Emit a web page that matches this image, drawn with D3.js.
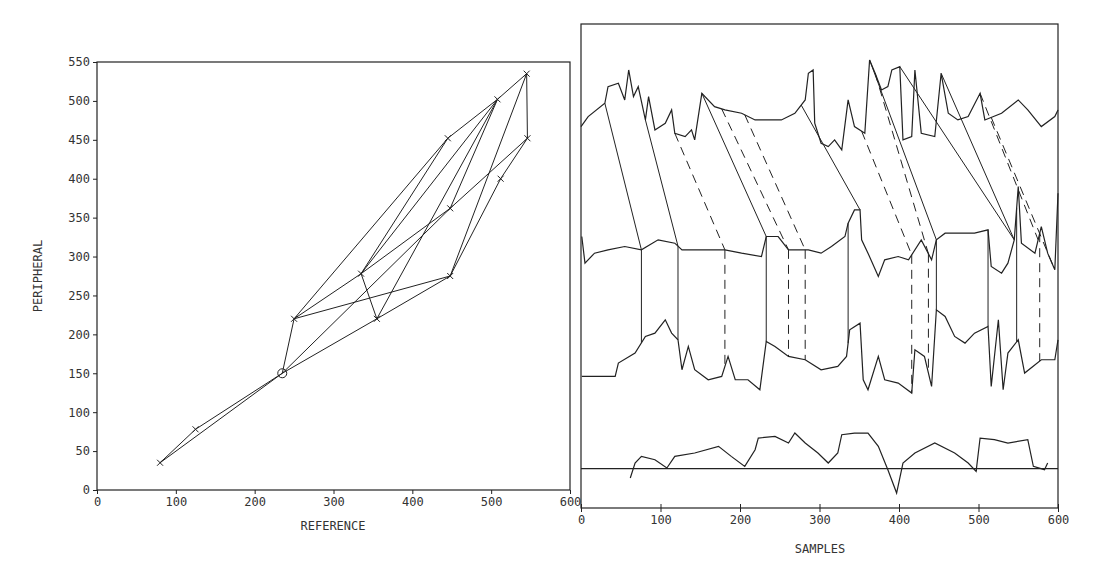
<!DOCTYPE html>
<html><head><meta charset="utf-8">
<script src="https://cdn.jsdelivr.net/npm/d3@7"></script>
<style>body{margin:0;background:#fff}text{font-family:"DejaVu Sans Mono",monospace;font-size:12px;fill:#333}</style>
</head><body><svg id="c" width="1100" height="580"></svg>
<script>
// left: alignment points [reference, peripheral]
const nodes = {A:[80,35],B:[125,78],C:[235,150],D:[250,220],E:[335,278],F:[355,220],G:[445,452],
  H:[448,362],I:[448,275],J:[508,502],K:[512,400],L:[545,535],M:[546,452]}
const edges = [['A','B'],['B','C'],['A','C'],['C','D'],['C','F'],['C','H'],['D','G'],['D','E'],['D','I'],
  ['E','G'],['E','J'],['E','H'],['E','F'],['F','I'],['F','J'],['I','K'],['I','L'],['H','M'],['H','J'],
  ['G','J'],['J','L'],['K','M'],['L','M']]
const leftTicksX = [0,100,200,300,400,500,600]
const leftTicksY = d3.range(0,551,50)

// right: traces [sample, amplitude]
const topTrace = [[0,113],[9,116],[30,120],[34,125],[47,126],[55,121],[60,130],[66,122],[72,125],[81,115],[85,122],[93,112],[106,114],[114,118],[118,111],[131,110],[139,112],[143,109],[152,123],[168,119],[181,118],[202,117],[219,115],[235,115],[252,115],[269,117],[282,121],[286,129],[292,130],[294,114],[302,108],[311,107],[319,109],[328,106],[336,121],[344,113],[357,111],[363,133],[370,129],[378,124],[386,125],[391,130],[401,131],[405,109],[416,110],[420,130],[428,111],[445,110],[453,129],[462,117],[474,115],[487,116],[502,123],[508,115],[529,117],[550,121],[562,118],[579,113],[596,116],[600,118]]
const midTrace = [[1,80],[5,72],[17,75],[34,76],[55,77],[76,76],[97,79],[118,78],[127,76],[160,76],[181,76],[202,75],[227,74],[233,80],[248,80],[261,76],[286,76],[302,75],[315,77],[332,80],[336,84],[344,88],[351,88],[353,79],[361,75],[374,68],[382,73],[399,74],[412,73],[428,79],[441,73],[447,79],[458,81],[474,81],[495,81],[512,82],[516,71],[529,69],[537,72],[545,79],[550,95],[554,78],[571,75],[579,83],[587,75],[596,70],[600,93]]
const lowTrace = [[1,38],[43,38],[47,42],[68,45],[81,50],[93,51],[106,55],[114,51],[122,49],[127,40],[135,47],[143,40],[160,37],[177,38],[185,44],[194,37],[210,37],[225,34],[233,48.5],[244,47],[261,44],[282,43],[302,40],[323,41],[334,44],[338,52],[351,54],[355,37],[361,34],[374,44],[382,37],[399,36],[416,33],[420,46],[432,44],[441,35],[447,58],[458,56],[470,50],[483,48],[495,51],[512,53],[516,35],[525,55],[531,34],[537,45],[550,49],[558,39],[579,43],[596,43],[600,49]]
const botTrace = [[62,7.5],[68,12],[76,14],[93,13],[108,10.5],[118,14],[143,15],[173,17],[189,14],[206,11],[219,16],[223,19.5],[244,20],[261,18],[269,21],[282,18],[298,15],[311,12],[323,15],[328,20.5],[344,21],[361,21],[374,17],[386,10],[397,3],[405,12],[420,15],[445,18],[470,15],[487,12],[497,9.5],[502,19.5],[520,19],[537,18],[562,19],[569,11],[583,10],[587,12]]
const baseline = 10.3
// top->middle links [top sample, middle sample, dashed]
const links = [[30,76,0],[81,122,0],[152,233,0],[277,351,0],[363,447,0],[401,545,0],[453,545,0],
  [118,181,1],[177,261,1],[206,282,1],[353,416,1],[370,437,1],[502,575,1],[516,596,1]]
// middle->lower verticals [sample, dashed]
const verts = [[76,0],[122,0],[233,0],[336,0],[447,0],[512,0],[548,0],[181,1],[261,1],[282,1],[416,1],[437,1],[577,1]]
const rightTicksX = [0,100,200,300,400,500,600]

const svg = d3.select('#c')
const ink = '#222'

// ---- left panel
const lx = d3.scaleLinear().domain([0,600]).range([97,570])
const ly = d3.scaleLinear().domain([0,550]).range([490,62])
svg.append('rect').attr('x',97).attr('y',62).attr('width',473).attr('height',428)
  .attr('fill','none').attr('stroke',ink).attr('stroke-width',1.2)
svg.append('g').attr('transform','translate(0,490)')
  .call(d3.axisBottom(lx).tickValues(leftTicksX).tickSize(4).tickSizeOuter(0))
  .call(g => g.select('.domain').remove())
svg.append('g').attr('transform','translate(97,0)')
  .call(d3.axisLeft(ly).tickValues(leftTicksY).tickSize(4).tickSizeOuter(0))
  .call(g => g.select('.domain').remove())
svg.selectAll('.tick line').attr('stroke',ink)
svg.selectAll('.tick text').style('font-size','12px')
svg.append('g').selectAll('line').data(edges).join('line')
  .attr('x1',d => lx(nodes[d[0]][0])).attr('y1',d => ly(nodes[d[0]][1]))
  .attr('x2',d => lx(nodes[d[1]][0])).attr('y2',d => ly(nodes[d[1]][1]))
  .attr('stroke',ink).attr('stroke-width',1)
const nodeList = Object.entries(nodes)
svg.append('g').selectAll('path').data(nodeList.filter(d => d[0] != 'C')).join('path')
  .attr('d',d => { const x = lx(d[1][0]), y = ly(d[1][1]); return `M${x-3},${y-3}L${x+3},${y+3}M${x-3},${y+3}L${x+3},${y-3}` })
  .attr('stroke',ink)
svg.append('circle').attr('cx',lx(nodes.C[0])).attr('cy',ly(nodes.C[1])).attr('r',4.5)
  .attr('fill','none').attr('stroke',ink)
svg.append('text').attr('x',333).attr('y',530).attr('text-anchor','middle').text('REFERENCE')
svg.append('text').attr('transform','translate(42,276)rotate(-90)').attr('text-anchor','middle').text('PERIPHERAL')

// ---- right panel
const rx = d3.scaleLinear().domain([0,600]).range([581,1058])
const ry = d3.scaleLinear().domain([-1.5,143.8]).range([508,24])
svg.append('rect').attr('x',581).attr('y',24).attr('width',477).attr('height',484)
  .attr('fill','none').attr('stroke',ink).attr('stroke-width',1.2)
const rAxis = svg.append('g').attr('transform','translate(0,508)')
  .call(d3.axisBottom(rx).tickValues(rightTicksX).tickSize(4).tickSizeOuter(0))
rAxis.select('.domain').remove()
rAxis.selectAll('.tick line').attr('stroke',ink).attr('y1',-4)
rAxis.selectAll('.tick text').style('font-size','12px')
svg.append('text').attr('x',820).attr('y',553).attr('text-anchor','middle').text('SAMPLES')

const line = d3.line().x(d => rx(d[0])).y(d => ry(d[1]))
;[topTrace,midTrace,lowTrace,botTrace].forEach(t => {
  svg.append('path').attr('d',line(t)).attr('fill','none').attr('stroke',ink).attr('stroke-width',1.2)
})
svg.append('line').attr('x1',rx(0)).attr('x2',rx(600)).attr('y1',ry(baseline)).attr('y2',ry(baseline))
  .attr('stroke',ink).attr('stroke-width',1.2)

function valueAt(trace, s) {
  const i = d3.bisector(d => d[0]).left(trace, s)
  if (i <= 0) return trace[0][1]
  if (i >= trace.length) return trace[trace.length-1][1]
  const a = trace[i-1], b = trace[i]
  return a[1] + (b[1]-a[1]) * (s-a[0]) / (b[0]-a[0])
}
svg.append('g').selectAll('line').data(links).join('line')
  .attr('x1',d => rx(d[0])).attr('y1',d => ry(valueAt(topTrace,d[0])))
  .attr('x2',d => rx(d[1])).attr('y2',d => ry(valueAt(midTrace,d[1])))
  .attr('stroke',ink).attr('stroke-width',1).attr('stroke-dasharray',d => d[2] ? '9,6' : null)
svg.append('g').selectAll('line').data(verts).join('line')
  .attr('x1',d => rx(d[0])).attr('y1',d => ry(valueAt(midTrace,d[0])))
  .attr('x2',d => rx(d[0])).attr('y2',d => ry(valueAt(lowTrace,d[0])))
  .attr('stroke',ink).attr('stroke-width',1).attr('stroke-dasharray',d => d[1] ? '9,6' : null)
</script></body></html>
